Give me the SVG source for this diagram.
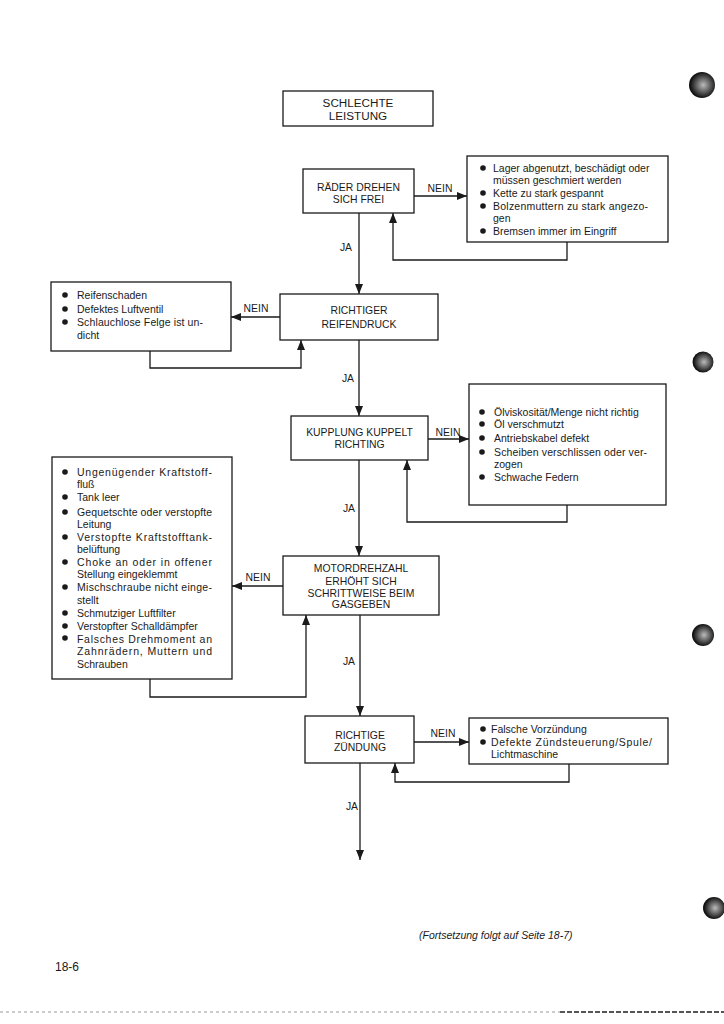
<svg xmlns="http://www.w3.org/2000/svg" width="724" height="1024" viewBox="0 0 724 1024">
<defs>
<style>
.box{fill:#fff;stroke:#1a1a1a;stroke-width:1.3}
.ln{fill:none;stroke:#1a1a1a;stroke-width:1.3}
.t{font-family:"Liberation Sans",Arial,sans-serif;font-size:10.5px;fill:#1a1a1a}
.c{text-anchor:middle;font-size:10.4px}
.ti{text-anchor:middle;font-size:11.7px}
.lbl{text-anchor:middle;font-size:10.4px}
.it{font-style:italic}
.b{fill:#1a1a1a}
.blob{fill:#222}
</style>
<marker id="ah" viewBox="0 0 10 8" refX="10" refY="4" markerWidth="11" markerHeight="8" markerUnits="userSpaceOnUse" orient="auto">
<path d="M0,0 L10,4 L0,8 Z" fill="#1a1a1a"/>
</marker>
<radialGradient id="bg" cx="0.55" cy="0.5" r="0.5">
<stop offset="0" stop-color="#bbb"/>
<stop offset="0.5" stop-color="#666"/>
<stop offset="1" stop-color="#111"/>
</radialGradient>
</defs>
<rect width="724" height="1024" fill="#fff"/>

<g id="connectors">
<line class="ln" x1="359" y1="213" x2="359" y2="294" marker-end="url(#ah)"/>
<line class="ln" x1="359" y1="340" x2="359" y2="416" marker-end="url(#ah)"/>
<line class="ln" x1="359" y1="460" x2="359" y2="556" marker-end="url(#ah)"/>
<line class="ln" x1="360" y1="615" x2="360" y2="716" marker-end="url(#ah)"/>
<line class="ln" x1="360" y1="763" x2="360" y2="860" marker-end="url(#ah)"/>
<line class="ln" x1="414" y1="196" x2="467" y2="196" marker-end="url(#ah)"/>
<line class="ln" x1="280" y1="317" x2="231" y2="317" marker-end="url(#ah)"/>
<line class="ln" x1="428" y1="439" x2="469" y2="439" marker-end="url(#ah)"/>
<line class="ln" x1="283" y1="586" x2="232" y2="586" marker-end="url(#ah)"/>
<line class="ln" x1="414" y1="742" x2="469" y2="742" marker-end="url(#ah)"/>
<path class="ln" d="M567 242 V260 H393 V213" marker-end="url(#ah)"/>
<path class="ln" d="M150 351 V368 H301 V340" marker-end="url(#ah)"/>
<path class="ln" d="M567 505 V522 H407 V460" marker-end="url(#ah)"/>
<path class="ln" d="M150 679 V697 H306 V615" marker-end="url(#ah)"/>
<path class="ln" d="M569 764 V782 H395 V763" marker-end="url(#ah)"/>
<text class="t lbl" x="440" y="192">NEIN</text>
<text class="t lbl" x="256" y="312">NEIN</text>
<text class="t lbl" x="448" y="436">NEIN</text>
<text class="t lbl" x="258" y="581">NEIN</text>
<text class="t lbl" x="443" y="737">NEIN</text>
<text class="t lbl" x="346" y="251">JA</text>
<text class="t lbl" x="348" y="382">JA</text>
<text class="t lbl" x="349" y="512">JA</text>
<text class="t lbl" x="349" y="665">JA</text>
<text class="t lbl" x="352" y="810">JA</text>
</g>

<g id="title">
<rect class="box" x="283" y="91" width="150" height="35"/>
<text class="t ti" x="358" y="107">SCHLECHTE</text>
<text class="t ti" x="358" y="120">LEISTUNG</text>
</g>

<g id="q1">
<rect class="box" x="303" y="169" width="111" height="44"/>
<text class="t c" x="358.5" y="191">RÄDER DREHEN</text>
<text class="t c" x="358.5" y="203">SICH FREI</text>
</g>

<g id="r1">
<rect class="box" x="467" y="156" width="201" height="86"/>
<circle class="b" cx="483" cy="168" r="2.8"/>
<circle class="b" cx="483" cy="193" r="2.8"/>
<circle class="b" cx="483" cy="206" r="2.8"/>
<circle class="b" cx="483" cy="231" r="2.8"/>
<text class="t" x="493" y="171.5">Lager abgenutzt, beschädigt oder</text>
<text class="t" x="493" y="183.5">müssen geschmiert werden</text>
<text class="t" x="493" y="196.5">Kette zu stark gespannt</text>
<text class="t" x="493" y="209.5" textLength="155" lengthAdjust="spacing">Bolzenmuttern zu stark angezo-</text>
<text class="t" x="493" y="221.5">gen</text>
<text class="t" x="493" y="234.5">Bremsen immer im Eingriff</text>
</g>

<g id="q2">
<rect class="box" x="280" y="294" width="158" height="46"/>
<text class="t c" x="359" y="314">RICHTIGER</text>
<text class="t c" x="359" y="328">REIFENDRUCK</text>
</g>

<g id="l2">
<rect class="box" x="51" y="282" width="180" height="69"/>
<circle class="b" cx="65" cy="295" r="2.8"/>
<circle class="b" cx="65" cy="309" r="2.8"/>
<circle class="b" cx="65" cy="322" r="2.8"/>
<text class="t" x="77" y="298.5">Reifenschaden</text>
<text class="t" x="77" y="312.5">Defektes Luftventil</text>
<text class="t" x="77" y="325.5" textLength="126" lengthAdjust="spacing">Schlauchlose Felge ist un-</text>
<text class="t" x="77" y="338.5">dicht</text>
</g>

<g id="q3">
<rect class="box" x="291" y="416" width="137" height="44"/>
<text class="t c" x="359.5" y="436">KUPPLUNG KUPPELT</text>
<text class="t c" x="359.5" y="448">RICHTING</text>
</g>

<g id="r3">
<rect class="box" x="469" y="384" width="197" height="121"/>
<circle class="b" cx="482" cy="412" r="2.8"/>
<circle class="b" cx="482" cy="424" r="2.8"/>
<circle class="b" cx="482" cy="438" r="2.8"/>
<circle class="b" cx="482" cy="452" r="2.8"/>
<circle class="b" cx="482" cy="477" r="2.8"/>
<text class="t" x="494" y="415.5">Ölviskosität/Menge nicht richtig</text>
<text class="t" x="494" y="427.5">Öl verschmutzt</text>
<text class="t" x="494" y="441.5">Antriebskabel defekt</text>
<text class="t" x="494" y="455.5" textLength="153" lengthAdjust="spacing">Scheiben verschlissen oder ver-</text>
<text class="t" x="494" y="467.5">zogen</text>
<text class="t" x="494" y="480.5">Schwache Federn</text>
</g>

<g id="q4">
<rect class="box" x="283" y="556" width="156" height="59"/>
<text class="t c" x="361" y="572">MOTORDREHZAHL</text>
<text class="t c" x="361" y="585">ERHÖHT SICH</text>
<text class="t c" x="361" y="597">SCHRITTWEISE BEIM</text>
<text class="t c" x="361" y="608">GASGEBEN</text>
</g>

<g id="l4">
<rect class="box" x="52" y="457" width="180" height="222"/>
<circle class="b" cx="65" cy="472" r="2.8"/>
<circle class="b" cx="65" cy="497" r="2.8"/>
<circle class="b" cx="65" cy="512" r="2.8"/>
<circle class="b" cx="65" cy="537" r="2.8"/>
<circle class="b" cx="65" cy="562" r="2.8"/>
<circle class="b" cx="65" cy="587" r="2.8"/>
<circle class="b" cx="65" cy="613" r="2.8"/>
<circle class="b" cx="65" cy="626" r="2.8"/>
<circle class="b" cx="65" cy="638" r="2.8"/>
<text class="t" x="77" y="475.5" textLength="135" lengthAdjust="spacing">Ungenügender Kraftstoff-</text>
<text class="t" x="77" y="487.5">fluß</text>
<text class="t" x="77" y="500.5">Tank leer</text>
<text class="t" x="77" y="515.5" textLength="135" lengthAdjust="spacing">Gequetschte oder verstopfte</text>
<text class="t" x="77" y="527.5">Leitung</text>
<text class="t" x="77" y="540.5" textLength="135" lengthAdjust="spacing">Verstopfte Kraftstofftank-</text>
<text class="t" x="77" y="552.5">belüftung</text>
<text class="t" x="77" y="565.5" textLength="135" lengthAdjust="spacing">Choke an oder in offener</text>
<text class="t" x="77" y="577.5">Stellung eingeklemmt</text>
<text class="t" x="77" y="590.5" textLength="135" lengthAdjust="spacing">Mischschraube nicht einge-</text>
<text class="t" x="77" y="603.5">stellt</text>
<text class="t" x="77" y="616.5">Schmutziger Luftfilter</text>
<text class="t" x="77" y="629.5">Verstopfter Schalldämpfer</text>
<text class="t" x="77" y="642.5" textLength="135" lengthAdjust="spacing">Falsches Drehmoment an</text>
<text class="t" x="77" y="654.5" textLength="135" lengthAdjust="spacing">Zahnrädern, Muttern und</text>
<text class="t" x="77" y="667.5">Schrauben</text>
</g>

<g id="q5">
<rect class="box" x="305" y="716" width="109" height="47"/>
<text class="t c" x="360" y="739">RICHTIGE</text>
<text class="t c" x="360" y="751">ZÜNDUNG</text>
</g>

<g id="r5">
<rect class="box" x="469" y="718" width="199" height="46"/>
<circle class="b" cx="483" cy="729" r="2.8"/>
<circle class="b" cx="483" cy="742" r="2.8"/>
<text class="t" x="491" y="732.5">Falsche Vorzündung</text>
<text class="t" x="491" y="745.5" textLength="161" lengthAdjust="spacing">Defekte  Zündsteuerung/Spule/</text>
<text class="t" x="491" y="757.5">Lichtmaschine</text>
</g>

<g id="footer">
<text class="t it" x="419" y="939">(Fortsetzung folgt auf Seite 18-7)</text>
<text class="t" x="55" y="971" style="font-size:12px">18-6</text>
</g>

<g id="scan-marks">
<circle cx="702" cy="85" r="13" fill="url(#bg)"/>
<circle cx="703" cy="362" r="10.5" fill="url(#bg)"/>
<circle cx="703" cy="635" r="11" fill="url(#bg)"/>
<circle cx="714" cy="908" r="11" fill="url(#bg)"/>
<line x1="0" y1="1012" x2="560" y2="1012" stroke="#999" stroke-width="1.2" stroke-dasharray="3 3"/>
<line x1="560" y1="1012" x2="724" y2="1012" stroke="#555" stroke-width="2" stroke-dasharray="5 2"/>
</g>
</svg>
